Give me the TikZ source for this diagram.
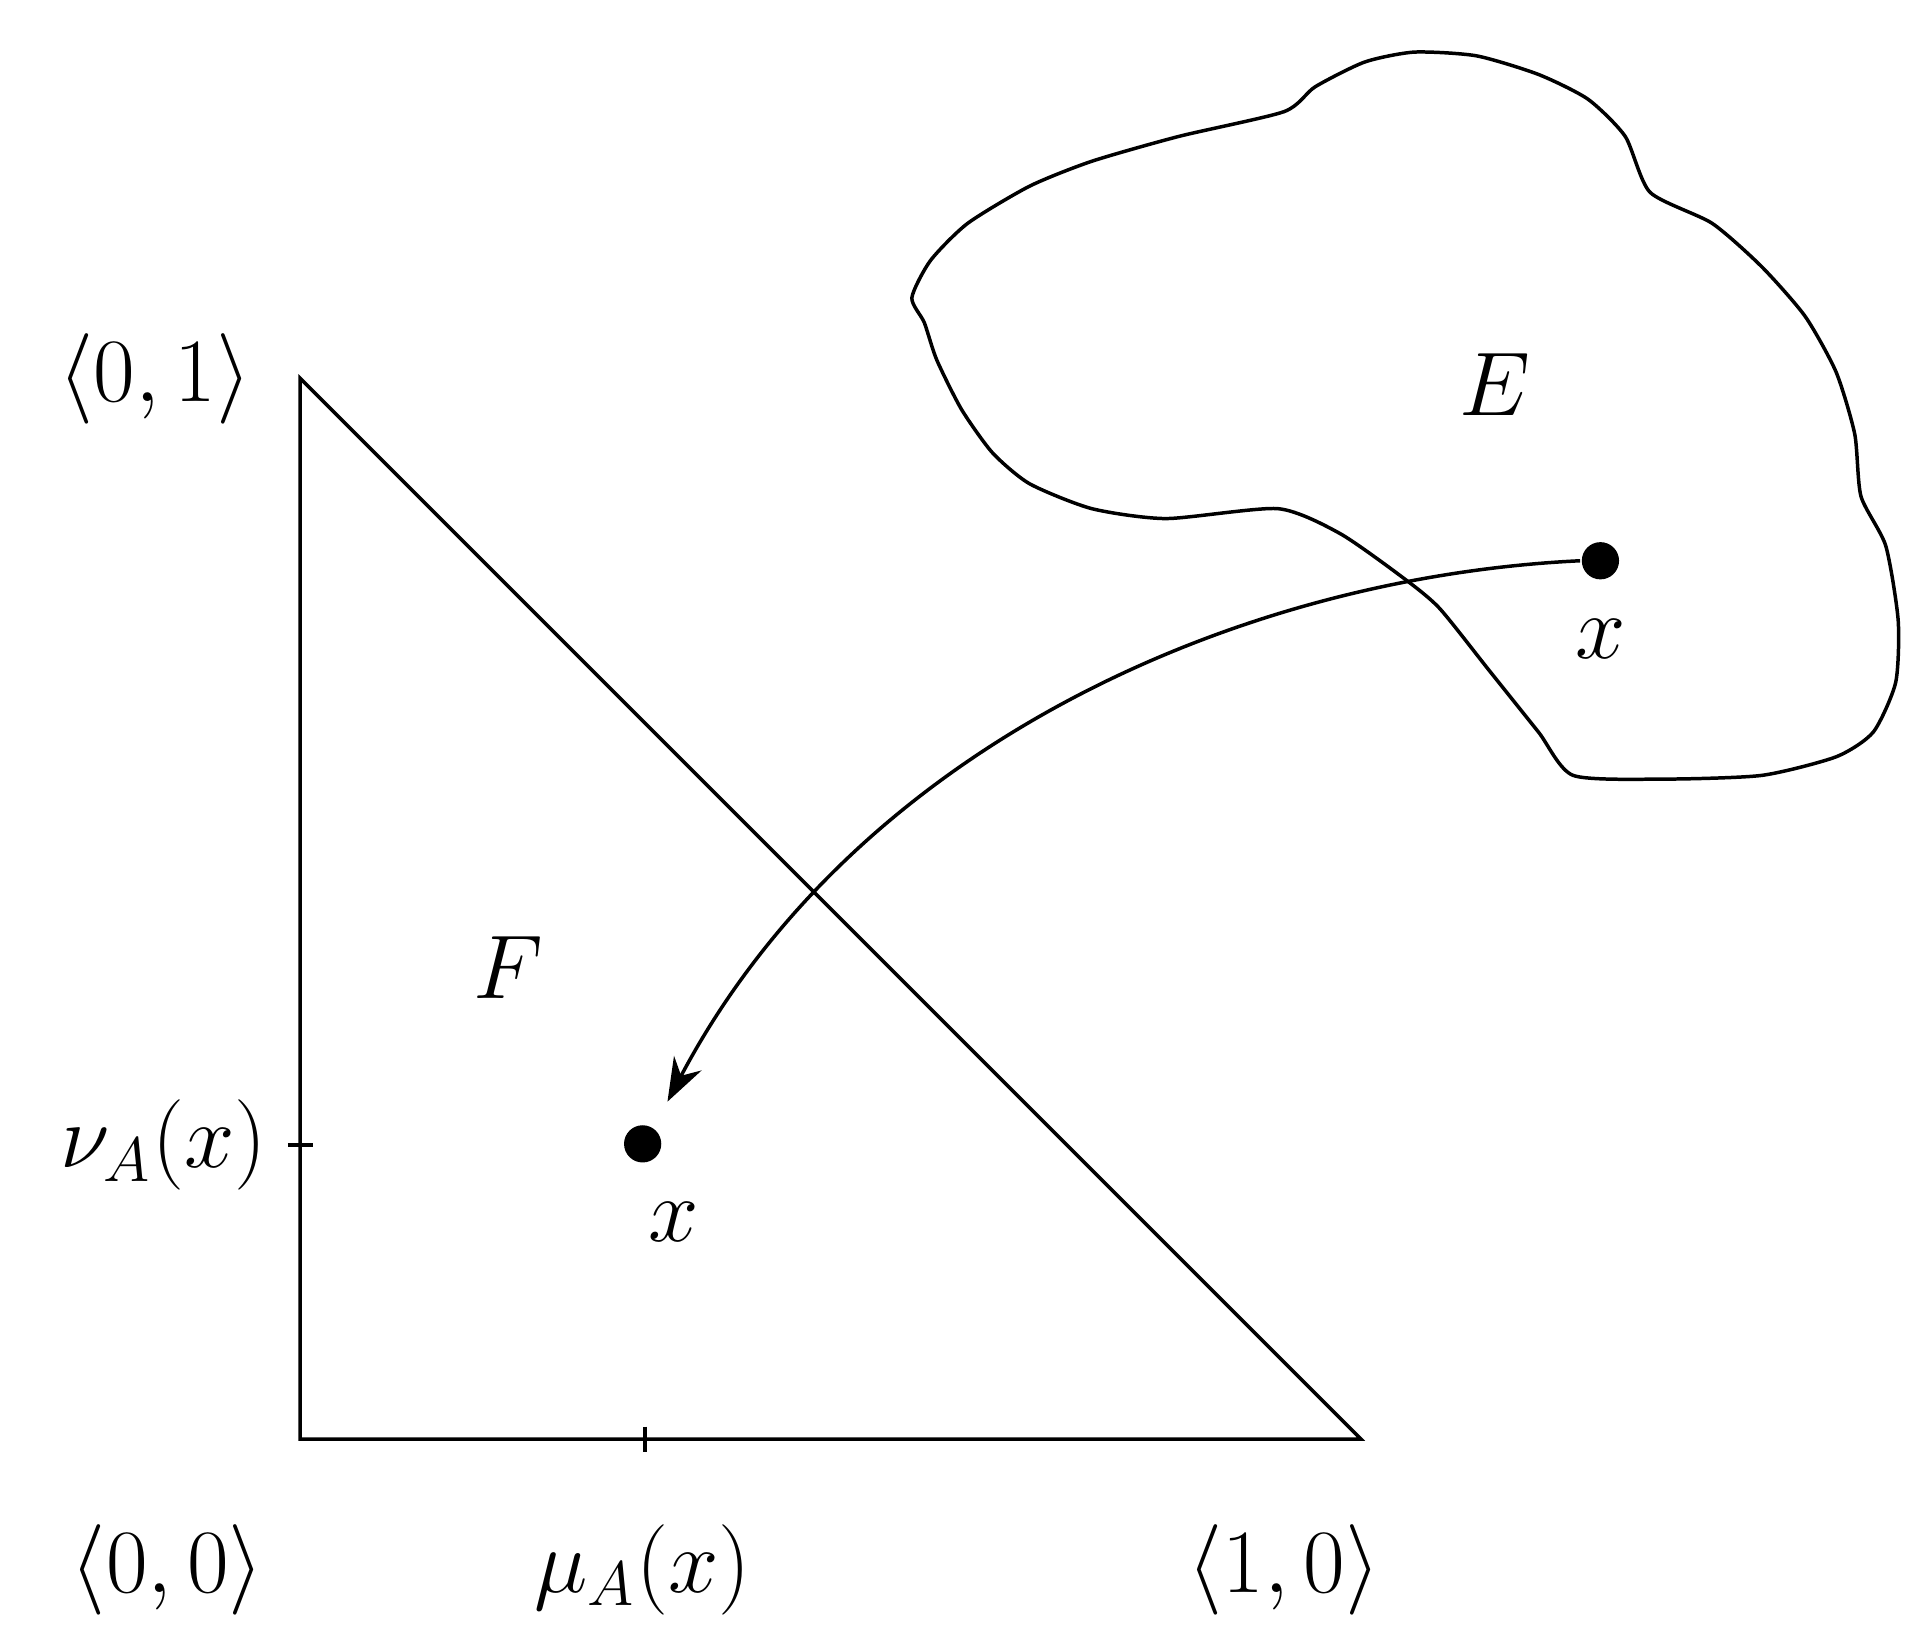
\documentclass[tikz,border=0pt]{standalone}
\usetikzlibrary{arrows.meta}
\begin{document}
\begin{tikzpicture}[x=0.01cm,y=-0.01cm,line width=0.8pt,
  lbl/.style={font=\fontsize{22}{26}\selectfont},
  dotn/.style={circle,fill=black,inner sep=0pt,minimum size=0.3cm}]
\useasboundingbox (0,0) rectangle (1550,1322);
\coordinate (A) at (242,305);
\coordinate (O) at (242,1160);
\coordinate (B) at (1097,1160);
\draw (A) -- (O) -- (B) -- cycle;
\draw (520,1150) -- (520,1170);
\draw (232,923) -- (252,923);
\node[dotn] (x1) at (518,922) {};
\node[lbl] (lx1) at (543,985) {$x$};
\node[dotn] (x2) at (1290,452) {};
\node[lbl] (lx2) at (1290,515) {$x$};
\node[lbl] (E) at (1205,310) {$E$};
\node[lbl] (F) at (410,780) {$F$};
\node[lbl] (l01) at (125,305) {$\langle 0,1\rangle$};
\node[lbl] (l00) at (135,1265) {$\langle 0,0\rangle$};
\node[lbl] (lmu) at (518,1265) {$\mu_A(x)$};
\node[lbl] (l10) at (1035,1265) {$\langle 1,0\rangle$};
\node[lbl,anchor=east] (lnu) at (228,923) {$\nu_A(x)$};
\draw plot[smooth cycle,tension=0.4] coordinates {(1035,90)(1060,70)(1100,50)(1140,42)(1190,45)(1240,60)(1280,80)(1310,110)(1330,155)(1380,180)(1420,215)(1455,255)(1480,300)(1495,350)(1500,400)(1520,440)(1530,500)(1528,550)(1510,590)(1480,610)(1420,625)(1340,628)(1268,625)(1240,590)(1200,540)(1160,490)(1130,465)(1080,430)(1030,410)(940,418)(880,410)(830,390)(800,365)(775,330)(755,290)(745,260)(735,240)(750,210)(780,180)(830,150)(880,130)(950,110)};
\draw[-{Stealth[length=0.35cm,width=0.25cm]}] (x2.west) .. controls (1000,465) and (690,600) .. (538,888);
\end{tikzpicture}
\end{document}
